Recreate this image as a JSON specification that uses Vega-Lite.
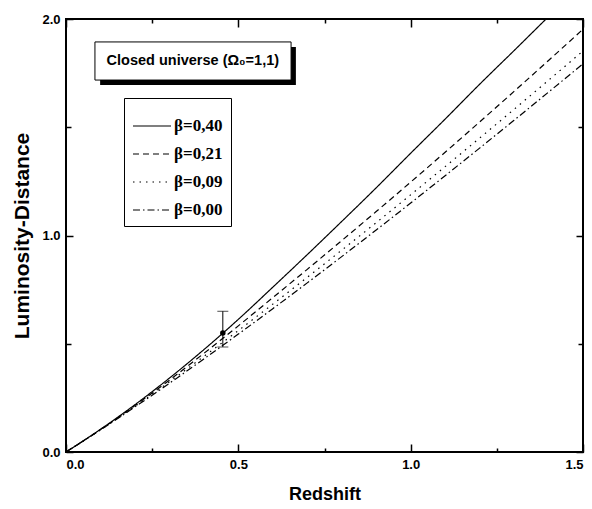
{
  "$schema": "https://vega.github.io/schema/vega-lite/v6.json",
  "width": 517,
  "height": 433,
  "autosize": "none",
  "padding": {"left": 66, "top": 19, "right": 9, "bottom": 57},
  "background": "white",
  "config": {
    "view": {"stroke": "black", "strokeWidth": 2},
    "font": "Liberation Sans",
    "axis": {
      "domain": false,
      "grid": false,
      "labelFont": "Liberation Sans",
      "labelFontWeight": "bold",
      "labelFontSize": 13,
      "labelColor": "black",
      "tickColor": "black",
      "tickWidth": 1.5,
      "titleFont": "Liberation Sans",
      "titleFontWeight": "bold",
      "titleColor": "black"
    }
  },
  "datasets": {
    "curves": [
      {"z": 0, "L": 0, "beta": "β=0,40"},
      {"z": 0.1, "L": 0.1047, "beta": "β=0,40"},
      {"z": 0.2, "L": 0.2185, "beta": "β=0,40"},
      {"z": 0.3, "L": 0.3413, "beta": "β=0,40"},
      {"z": 0.4, "L": 0.4728, "beta": "β=0,40"},
      {"z": 0.5, "L": 0.6127, "beta": "β=0,40"},
      {"z": 0.6, "L": 0.7612, "beta": "β=0,40"},
      {"z": 0.7, "L": 0.9117, "beta": "β=0,40"},
      {"z": 0.8, "L": 1.065, "beta": "β=0,40"},
      {"z": 0.9, "L": 1.2203, "beta": "β=0,40"},
      {"z": 1.0, "L": 1.38, "beta": "β=0,40"},
      {"z": 1.1, "L": 1.5377, "beta": "β=0,40"},
      {"z": 1.2, "L": 1.6984, "beta": "β=0,40"},
      {"z": 1.3, "L": 1.8541, "beta": "β=0,40"},
      {"z": 1.4, "L": 2.0113, "beta": "β=0,40"},
      {"z": 0, "L": 0, "beta": "β=0,21"},
      {"z": 0.1, "L": 0.1036, "beta": "β=0,21"},
      {"z": 0.2, "L": 0.2143, "beta": "β=0,21"},
      {"z": 0.3, "L": 0.3318, "beta": "β=0,21"},
      {"z": 0.4, "L": 0.4556, "beta": "β=0,21"},
      {"z": 0.5, "L": 0.5827, "beta": "β=0,21"},
      {"z": 0.6, "L": 0.7129, "beta": "β=0,21"},
      {"z": 0.7, "L": 0.8437, "beta": "β=0,21"},
      {"z": 0.8, "L": 0.9765, "beta": "β=0,21"},
      {"z": 0.9, "L": 1.1106, "beta": "β=0,21"},
      {"z": 1.0, "L": 1.2466, "beta": "β=0,21"},
      {"z": 1.1, "L": 1.3846, "beta": "β=0,21"},
      {"z": 1.2, "L": 1.5243, "beta": "β=0,21"},
      {"z": 1.3, "L": 1.6656, "beta": "β=0,21"},
      {"z": 1.4, "L": 1.8085, "beta": "β=0,21"},
      {"z": 1.5, "L": 1.9526, "beta": "β=0,21"},
      {"z": 0, "L": 0, "beta": "β=0,09"},
      {"z": 0.1, "L": 0.1028, "beta": "β=0,09"},
      {"z": 0.2, "L": 0.211, "beta": "β=0,09"},
      {"z": 0.3, "L": 0.3242, "beta": "β=0,09"},
      {"z": 0.4, "L": 0.4414, "beta": "β=0,09"},
      {"z": 0.5, "L": 0.5609, "beta": "β=0,09"},
      {"z": 0.6, "L": 0.6831, "beta": "β=0,09"},
      {"z": 0.7, "L": 0.807, "beta": "β=0,09"},
      {"z": 0.8, "L": 0.9323, "beta": "β=0,09"},
      {"z": 0.9, "L": 1.0593, "beta": "β=0,09"},
      {"z": 1.0, "L": 1.188, "beta": "β=0,09"},
      {"z": 1.1, "L": 1.3182, "beta": "β=0,09"},
      {"z": 1.2, "L": 1.4499, "beta": "β=0,09"},
      {"z": 1.3, "L": 1.5829, "beta": "β=0,09"},
      {"z": 1.4, "L": 1.7171, "beta": "β=0,09"},
      {"z": 1.5, "L": 1.8522, "beta": "β=0,09"},
      {"z": 0, "L": 0, "beta": "β=0,00"},
      {"z": 0.1, "L": 0.1021, "beta": "β=0,00"},
      {"z": 0.2, "L": 0.2081, "beta": "β=0,00"},
      {"z": 0.3, "L": 0.3175, "beta": "β=0,00"},
      {"z": 0.4, "L": 0.4298, "beta": "β=0,00"},
      {"z": 0.5, "L": 0.5446, "beta": "β=0,00"},
      {"z": 0.6, "L": 0.6619, "beta": "β=0,00"},
      {"z": 0.7, "L": 0.7812, "beta": "β=0,00"},
      {"z": 0.8, "L": 0.9025, "beta": "β=0,00"},
      {"z": 0.9, "L": 1.0255, "beta": "β=0,00"},
      {"z": 1.0, "L": 1.15, "beta": "β=0,00"},
      {"z": 1.1, "L": 1.2761, "beta": "β=0,00"},
      {"z": 1.2, "L": 1.4036, "beta": "β=0,00"},
      {"z": 1.3, "L": 1.5323, "beta": "β=0,00"},
      {"z": 1.4, "L": 1.6622, "beta": "β=0,00"},
      {"z": 1.5, "L": 1.793, "beta": "β=0,00"}
    ],
    "obs": [
      {"z": 0.455, "L": 0.55, "lo": 0.485, "hi": 0.65}
    ]
  },
  "layer": [
    {
      "data": {"name": "curves"},
      "mark": {"type": "line", "color": "black", "strokeWidth": 1.2, "interpolate": "monotone", "clip": true},
      "encoding": {
        "x": {
          "field": "z", "type": "quantitative",
          "scale": {"domain": [0, 1.5], "nice": false, "zero": false},
          "axis": {
            "orient": "bottom",
            "values": [0, 0.25, 0.5, 0.75, 1, 1.25, 1.5],
            "labelExpr": "datum.value % 0.5 === 0 ? format(datum.value, '.1f') : ''",
            "tickSize": -8,
            "tickDash": {"condition": {"test": "datum.value % 0.5 !== 0", "value": [4, 20]}, "value": [8, 0]},
            "labelPadding": 14,
            "title": "Redshift",
            "titleFontSize": 18,
            "titlePadding": 14
          }
        },
        "y": {
          "field": "L", "type": "quantitative",
          "scale": {"domain": [0, 2], "nice": false, "zero": false},
          "axis": {
            "orient": "left",
            "values": [0, 0.5, 1, 1.5, 2],
            "labelExpr": "datum.value % 1 === 0 ? format(datum.value, '.1f') : ''",
            "tickSize": -7,
            "tickDash": {"condition": {"test": "datum.value % 1 !== 0", "value": [5, 20]}, "value": [7, 0]},
            "labelPadding": 13,
            "title": "Luminosity-Distance",
            "titleFontSize": 21,
            "titlePadding": 9
          }
        },
        "strokeDash": {
          "field": "beta", "type": "nominal",
          "scale": {
            "domain": ["β=0,40", "β=0,21", "β=0,09", "β=0,00"],
            "range": [[1, 0], [6, 4], [1.5, 5], [7, 3, 1.5, 3]]
          },
          "legend": {
            "orient": "none",
            "legendX": 58,
            "legendY": 79,
            "title": null,
            "symbolType": "stroke",
            "symbolSize": 1444,
            "symbolStrokeWidth": 1.2,
            "symbolStrokeColor": "black",
            "strokeColor": "black",
            "fillColor": "white",
            "padding": 8,
            "rowPadding": -3.5,
            "labelFont": "Liberation Serif",
            "labelFontSize": 17,
            "labelFontWeight": "bold",
            "labelColor": "black",
            "labelOffset": 2
          }
        }
      }
    },
    {
      "data": {"name": "obs"},
      "mark": {"type": "rule", "color": "black", "strokeWidth": 1},
      "encoding": {
        "x": {"field": "z", "type": "quantitative", "axis": {"orient": "top", "values": [0, 0.25, 0.5, 0.75, 1, 1.25, 1.5], "labels": false, "title": null, "tickSize": -8, "tickDash": {"condition": {"test": "datum.value % 0.5 !== 0", "value": [4, 20]}, "value": [8, 0]}}},
        "y": {"field": "lo", "type": "quantitative", "axis": {"orient": "right", "values": [0, 0.5, 1, 1.5, 2], "labels": false, "title": null, "tickSize": -7, "tickDash": {"condition": {"test": "datum.value % 1 !== 0", "value": [5, 20]}, "value": [7, 0]}}},
        "y2": {"field": "hi"}
      }
    },
    {
      "data": {"name": "obs"},
      "mark": {"type": "tick", "orient": "horizontal", "color": "black", "size": 11, "thickness": 1},
      "encoding": {
        "x": {"field": "z", "type": "quantitative", "axis": null},
        "y": {"field": "lo", "type": "quantitative", "axis": null}
      }
    },
    {
      "data": {"name": "obs"},
      "mark": {"type": "tick", "orient": "horizontal", "color": "black", "size": 11, "thickness": 1},
      "encoding": {
        "x": {"field": "z", "type": "quantitative", "axis": null},
        "y": {"field": "hi", "type": "quantitative", "axis": null}
      }
    },
    {
      "data": {"name": "obs"},
      "mark": {"type": "point", "filled": true, "color": "black", "size": 30, "opacity": 1},
      "encoding": {
        "x": {"field": "z", "type": "quantitative", "axis": null},
        "y": {"field": "L", "type": "quantitative", "axis": null}
      }
    },
    {
      "data": {"values": [{"box": "shadow"}]},
      "mark": {"type": "rect", "color": "black"},
      "encoding": {
        "x": {"datum": 0.099, "type": "quantitative", "axis": null},
        "x2": {"datum": 0.667},
        "y": {"datum": 1.871, "type": "quantitative", "axis": null},
        "y2": {"datum": 1.695}
      }
    },
    {
      "data": {"values": [{"box": "frame"}]},
      "mark": {"type": "rect", "fill": "white", "stroke": "black", "strokeWidth": 1},
      "encoding": {
        "x": {"datum": 0.084, "type": "quantitative", "axis": null},
        "x2": {"datum": 0.653},
        "y": {"datum": 1.894, "type": "quantitative", "axis": null},
        "y2": {"datum": 1.718}
      }
    },
    {
      "data": {"values": [{"label": "Closed universe (Ω₀=1,1)"}]},
      "mark": {"type": "text", "font": "Liberation Sans", "fontWeight": "bold", "fontSize": 14.5, "color": "black", "align": "center", "baseline": "middle"},
      "encoding": {
        "text": {"field": "label"},
        "x": {"datum": 0.368, "type": "quantitative", "axis": null},
        "y": {"datum": 1.806, "type": "quantitative", "axis": null}
      }
    }
  ],
  "resolve": {"axis": {"x": "independent", "y": "independent"}}
}
